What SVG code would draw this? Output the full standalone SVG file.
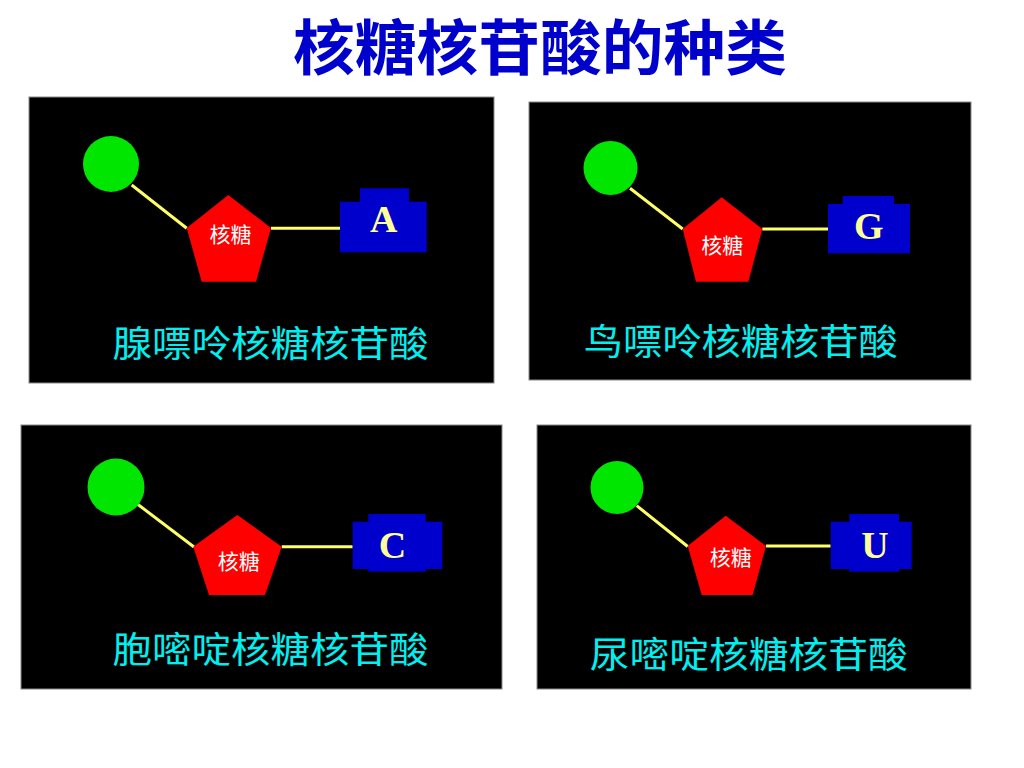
<svg xmlns="http://www.w3.org/2000/svg" width="1024" height="768" viewBox="0 0 1024 768">
<style>
.panel{fill:#000;stroke:#8a8a8a;stroke-width:1}
.phos{fill:#00E600}
.sugar{fill:#FF0000}
.base{fill:#0000CC}
.conn{stroke:#FFFF66;stroke-width:3;fill:none}
.title{font-family:"Noto Sans CJK SC","Noto Sans CJK TC",sans-serif;font-weight:bold;font-size:60px;fill:#0000CC;text-anchor:middle}
.lbl{font-family:"Noto Sans CJK SC","Noto Sans CJK TC",sans-serif;font-size:36px;fill:#00F0F0;text-anchor:middle}
.stxt{font-family:"Noto Sans CJK SC","Noto Sans CJK TC",sans-serif;font-size:21px;fill:#FFFFFF;text-anchor:middle}
.btxt{font-family:"Liberation Serif","Times New Roman",serif;font-weight:bold;font-size:38px;fill:#FFFF99;text-anchor:middle}
</style>
<rect width="1024" height="768" fill="#FFFFFF"/>
<text class="title" x="540" y="70" textLength="494" lengthAdjust="spacingAndGlyphs">核糖核苷酸的种类</text>

<g id="panels">
<rect id="panel-A" class="panel" x="29" y="97" width="465" height="286"/>
<rect id="panel-G" class="panel" x="529" y="102" width="442" height="278"/>
<rect id="panel-C" class="panel" x="21" y="425" width="481" height="264"/>
<rect id="panel-U" class="panel" x="537" y="425" width="434" height="264"/>
</g>

<g id="connectors">
<line class="conn" x1="131.7" y1="185" x2="186.7" y2="228.3"/>
<line class="conn" x1="271" y1="228.3" x2="340" y2="228.3"/>
<line class="conn" x1="630" y1="188.3" x2="682.7" y2="229"/>
<line class="conn" x1="762.3" y1="229" x2="828.3" y2="229"/>
<line class="conn" x1="137.3" y1="504" x2="194" y2="547"/>
<line class="conn" x1="281.7" y1="546.7" x2="352.7" y2="546.7"/>
<line class="conn" x1="636.7" y1="505.7" x2="687.7" y2="546.5"/>
<line class="conn" x1="766" y1="546" x2="830.7" y2="546"/>
</g>

<g id="phosphate-A"><circle class="phos" cx="111" cy="164" r="28"/></g>
<g id="sugar-A">
<polygon class="sugar" points="228.3,195 271,228 256,281.7 201.7,281.7 186.7,228"/>
<text class="stxt" x="230.5" y="241.5">核糖</text>
</g>
<g id="base-A">
<rect class="base" x="340" y="201.7" width="86.7" height="50.6"/>
<rect class="base" x="360" y="188.3" width="49" height="14"/>
<text class="btxt" x="383.7" y="232">A</text>
</g>
<g id="label-A"><text class="lbl" x="270.5" y="356.5" textLength="316" lengthAdjust="spacingAndGlyphs">腺嘌呤核糖核苷酸</text></g>

<g id="phosphate-G"><circle class="phos" cx="610.5" cy="168" r="27"/></g>
<g id="sugar-G">
<polygon class="sugar" points="721.7,197.3 762.3,229 748.3,281.7 696,281.7 682.7,229"/>
<text class="stxt" x="722.3" y="253">核糖</text>
</g>
<g id="base-G">
<rect class="base" x="828" y="204" width="82" height="49.3"/>
<rect class="base" x="842.7" y="196" width="51.3" height="9"/>
<text class="btxt" x="868.7" y="238.5">G</text>
</g>
<g id="label-G"><text class="lbl" x="740.8" y="354.7" textLength="314" lengthAdjust="spacingAndGlyphs">鸟嘌呤核糖核苷酸</text></g>

<g id="phosphate-C"><circle class="phos" cx="116" cy="487" r="28.5"/></g>
<g id="sugar-C">
<polygon class="sugar" points="237.3,515 281.7,546.7 265,595 209,595 193.3,546.7"/>
<text class="stxt" x="238.7" y="568.5">核糖</text>
</g>
<g id="base-C">
<rect class="base" x="352.7" y="521.7" width="89.6" height="47.3"/>
<rect class="base" x="368.3" y="514" width="57.4" height="57.7"/>
<text class="btxt" x="392.5" y="558">C</text>
</g>
<g id="label-C"><text class="lbl" x="270.5" y="662.5" textLength="316" lengthAdjust="spacingAndGlyphs">胞嘧啶核糖核苷酸</text></g>

<g id="phosphate-U"><circle class="phos" cx="617" cy="487.5" r="26.5"/></g>
<g id="sugar-U">
<polygon class="sugar" points="725.7,515.7 766,546 752.7,595 701.7,595 687.7,546"/>
<text class="stxt" x="730.8" y="564.7">核糖</text>
</g>
<g id="base-U">
<rect class="base" x="830.7" y="521.7" width="81" height="47.3"/>
<rect class="base" x="849.3" y="514" width="49.7" height="57.7"/>
<text class="btxt" x="875" y="557.5">U</text>
</g>
<g id="label-U"><text class="lbl" x="748.8" y="667.5" textLength="318" lengthAdjust="spacingAndGlyphs">尿嘧啶核糖核苷酸</text></g>
</svg>
